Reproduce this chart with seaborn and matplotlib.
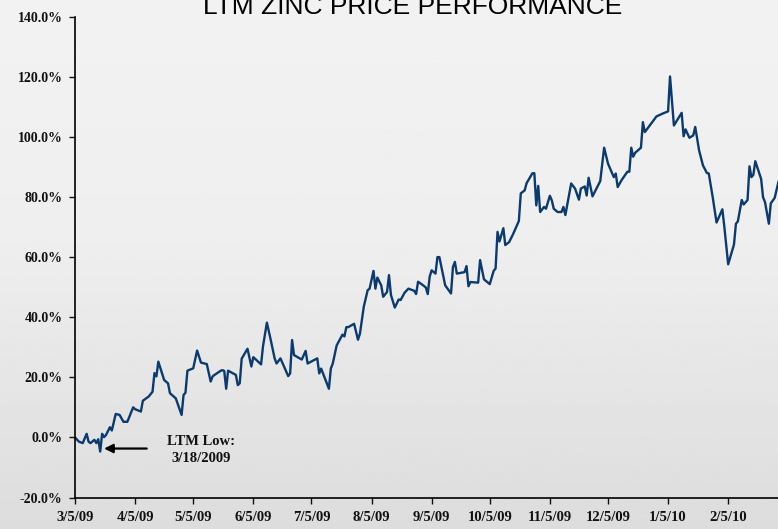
import pandas as pd
import numpy as np
import matplotlib
matplotlib.use("Agg")
import matplotlib.pyplot as plt
from matplotlib.ticker import FuncFormatter
import seaborn as sns

# LTM zinc price performance, % change vs 3/5/09
dates = [
    "2009-03-05", "2009-03-07", "2009-03-09", "2009-03-11", "2009-03-12", "2009-03-13",
    "2009-03-15", "2009-03-16", "2009-03-17", "2009-03-18", "2009-03-19", "2009-03-20",
    "2009-03-21", "2009-03-23", "2009-03-24", "2009-03-26", "2009-03-28", "2009-03-30",
    "2009-04-01", "2009-04-04", "2009-04-05", "2009-04-08", "2009-04-09", "2009-04-12",
    "2009-04-14", "2009-04-15", "2009-04-16", "2009-04-17", "2009-04-20", "2009-04-22",
    "2009-04-23", "2009-04-26", "2009-04-29", "2009-04-30", "2009-05-01", "2009-05-02",
    "2009-05-05", "2009-05-07", "2009-05-09", "2009-05-12", "2009-05-14", "2009-05-15",
    "2009-05-16", "2009-05-19", "2009-05-20", "2009-05-21", "2009-05-22", "2009-05-23",
    "2009-05-27", "2009-05-28", "2009-05-29", "2009-05-30", "2009-06-02", "2009-06-04",
    "2009-06-05", "2009-06-09", "2009-06-10", "2009-06-12", "2009-06-14", "2009-06-16",
    "2009-06-17", "2009-06-19", "2009-06-23", "2009-06-24", "2009-06-25", "2009-06-26",
    "2009-06-30", "2009-07-02", "2009-07-03", "2009-07-08", "2009-07-09", "2009-07-10",
    "2009-07-14", "2009-07-15", "2009-07-16", "2009-07-18", "2009-07-21", "2009-07-22",
    "2009-07-23", "2009-07-24", "2009-07-27", "2009-07-29", "2009-07-30", "2009-08-01",
    "2009-08-03", "2009-08-04", "2009-08-06", "2009-08-07", "2009-08-08", "2009-08-10",
    "2009-08-11", "2009-08-13", "2009-08-14", "2009-08-15", "2009-08-17", "2009-08-19",
    "2009-08-20", "2009-08-22", "2009-08-24", "2009-08-27", "2009-08-28", "2009-08-29",
    "2009-08-31", "2009-09-02", "2009-09-03", "2009-09-04", "2009-09-05", "2009-09-07",
    "2009-09-08", "2009-09-09", "2009-09-12", "2009-09-15", "2009-09-16", "2009-09-17",
    "2009-09-18", "2009-09-22", "2009-09-23", "2009-09-24", "2009-09-25", "2009-09-29",
    "2009-09-30", "2009-10-02", "2009-10-05", "2009-10-07", "2009-10-08", "2009-10-09",
    "2009-10-10", "2009-10-12", "2009-10-13", "2009-10-15", "2009-10-17", "2009-10-20",
    "2009-10-21", "2009-10-23", "2009-10-24", "2009-10-27", "2009-10-28", "2009-10-29",
    "2009-10-30", "2009-10-31", "2009-11-02", "2009-11-03", "2009-11-05", "2009-11-06",
    "2009-11-07", "2009-11-09", "2009-11-11", "2009-11-12", "2009-11-13", "2009-11-16",
    "2009-11-18", "2009-11-20", "2009-11-21", "2009-11-23", "2009-11-24", "2009-11-25",
    "2009-11-27", "2009-12-01", "2009-12-03", "2009-12-05", "2009-12-08", "2009-12-09",
    "2009-12-10", "2009-12-12", "2009-12-15", "2009-12-16", "2009-12-17", "2009-12-18",
    "2009-12-19", "2009-12-22", "2009-12-23", "2009-12-24", "2009-12-30", "2010-01-02",
    "2010-01-05", "2010-01-06", "2010-01-08", "2010-01-12", "2010-01-13", "2010-01-14",
    "2010-01-16", "2010-01-18", "2010-01-19", "2010-01-21", "2010-01-23", "2010-01-25",
    "2010-01-26", "2010-01-28", "2010-01-30", "2010-02-02", "2010-02-03", "2010-02-05",
    "2010-02-08", "2010-02-09", "2010-02-10", "2010-02-12", "2010-02-13", "2010-02-15",
    "2010-02-16", "2010-02-17", "2010-02-18", "2010-02-19", "2010-02-22", "2010-02-23",
    "2010-02-24", "2010-02-26", "2010-02-27", "2010-03-01", "2010-03-03",
]
returns = [
    0.0, -1.4, -1.9, 1.2, -1.4, -1.9,
    -0.8, -1.9, -0.6, -4.7, 1.2, 0.1,
    0.8, 3.4, 2.3, 7.8, 7.5, 5.2,
    5.2, 10.0, 9.4, 8.6, 12.2, 13.6,
    15.2, 21.4, 20.3, 25.2, 19.1, 18.0,
    14.7, 13.0, 7.5, 14.1, 14.9, 22.2,
    23.0, 28.9, 24.9, 24.4, 18.6, 20.3,
    20.8, 22.1, 22.4, 22.1, 16.2, 22.2,
    20.8, 17.4, 18.0, 26.2, 29.5, 23.6,
    26.7, 24.3, 30.3, 38.2, 32.4, 26.3,
    24.6, 26.3, 20.4, 21.3, 32.4, 27.4,
    25.9, 28.8, 24.6, 26.3, 21.3, 22.9,
    16.2, 22.9, 24.6, 30.6, 34.2, 33.6,
    36.7, 36.7, 37.8, 32.5, 34.5, 43.5,
    49.0, 49.5, 55.4, 49.5, 53.2, 50.6,
    46.8, 48.4, 54.0, 47.4, 43.2, 45.9,
    45.7, 48.1, 49.5, 48.8, 47.7, 51.8,
    50.9, 49.9, 47.7, 53.5, 55.6, 54.5,
    60.0, 60.0, 50.6, 47.9, 56.7, 58.4,
    54.5, 55.0, 57.0, 50.3, 51.7, 51.5,
    59.0, 52.6, 51.0, 55.4, 56.2, 68.4,
    65.2, 69.6, 64.0, 65.0, 67.6, 72.0,
    81.2, 82.2, 84.6, 87.9, 87.9, 77.2,
    83.7, 75.0, 76.7, 76.1, 80.4, 78.9,
    76.1, 75.0, 75.0, 76.7, 74.0, 84.5,
    82.8, 79.1, 82.8, 83.5, 80.5, 86.4,
    80.2, 85.3, 96.4, 91.1, 86.6, 87.8,
    83.3, 85.6, 88.4, 88.4, 96.4, 93.4,
    94.7, 96.4, 104.9, 101.6, 106.8, 107.7,
    108.5, 120.1, 103.8, 108.0, 100.2, 102.5,
    99.7, 100.5, 103.3, 95.5, 90.5, 88.0,
    87.8, 80.0, 71.5, 75.9, 70.2, 57.6,
    64.2, 71.1, 71.9, 79.0, 77.5, 79.0,
    90.2, 86.6, 87.4, 91.9, 86.0, 79.9,
    78.3, 71.1, 77.9, 79.7, 85.2,
]

title = "LTM ZINC PRICE PERFORMANCE"
low_date = "2009-03-18"
low_label = "LTM Low:\n3/18/2009"
y_ticks = [-20, 0, 20, 40, 60, 80, 100, 120, 140]
x_ticks = pd.date_range("2009-03-05", periods=12, freq=pd.DateOffset(months=1))

sns.set_style("ticks")
plt.rcParams["font.family"] = ["Liberation Serif", "DejaVu Serif"]
plt.rcParams["font.weight"] = "bold"

df = pd.DataFrame({"Date": pd.to_datetime(dates), "Return": returns})

fig = plt.figure(figsize=(7.78, 5.29), dpi=100)

# soft grey background, darker towards the bottom
bg = fig.add_axes([0, 0, 1, 1], zorder=-10)
rows = np.linspace(0, 1, 256)
shade = np.interp(rows, [0, 0.45, 1], [0.949, 0.935, 0.865])
bg.imshow(shade[:, None], cmap="gray", vmin=0, vmax=1, aspect="auto",
          extent=[0, 1, 0, 1])
bg.set_axis_off()

ax = fig.add_axes([0.0964, 0.0595, 0.9036, 0.909])
ax.set_facecolor("none")

sns.lineplot(data=df, x="Date", y="Return", color="#0b3a6f", linewidth=1.7, ax=ax)

ax.set_xlim(pd.Timestamp("2009-03-05"), pd.Timestamp("2010-03-02 17:00"))
ax.set_ylim(-20, 140)
ax.set_yticks(y_ticks)
ax.set_xticks(x_ticks)
ax.yaxis.set_major_formatter(FuncFormatter(lambda v, p: f"{v:.1f}%"))
ax.set_xticklabels([f"{d.month}/{d.day}/{d:%y}" for d in x_ticks])
ax.set_xlabel("")
ax.set_ylabel("")

sns.despine(ax=ax)
for side in ["left", "bottom"]:
    ax.spines[side].set_linewidth(1.2)
    ax.spines[side].set_color("black")
ax.tick_params(axis="x", direction="out", length=4, width=1, labelsize=10.5, pad=6,
               colors="#111111")
ax.tick_params(axis="y", direction="out", length=4, width=1, labelsize=10, pad=5,
               colors="#111111")

# LTM low callout
low_ts = pd.Timestamp(low_date)
low_val = df.loc[df["Date"] == low_ts, "Return"].iloc[0]
ax.annotate("", xy=(low_ts + pd.Timedelta(days=2), low_val + 1.0),
            xytext=(low_ts + pd.Timedelta(days=24), low_val + 1.0),
            arrowprops=dict(arrowstyle="-|>", color="black", lw=1.6,
                            mutation_scale=13, shrinkA=0, shrinkB=0))
ax.text(low_ts + pd.Timedelta(days=52), low_val + 0.5, low_label,
        ha="center", va="center", fontsize=10.5, linespacing=1.35, color="#111111")

# title runs off the top edge, as in the source slide
fig.text(0.531, 0.9735, title, ha="center", va="baseline", fontsize=19,
         fontweight="normal", family=["Liberation Sans Narrow", "Liberation Sans"],
         color="black")

fig.savefig("out.png", dpi=100)
